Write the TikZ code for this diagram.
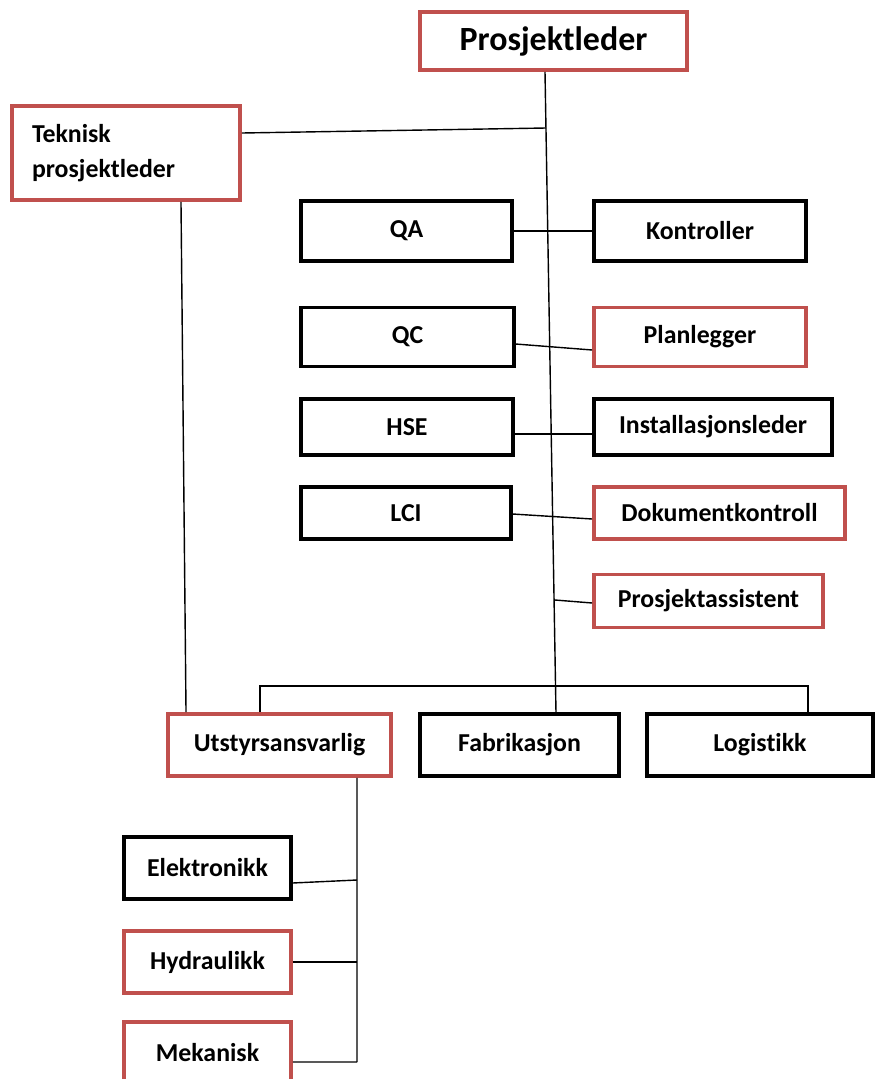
\documentclass[tikz,border=0pt]{standalone}
\usepackage{fontspec}
\setmainfont{Carlito}[Ligatures=NoCommon]
\usetikzlibrary{calc}
\definecolor{boxred}{RGB}{192,80,77}

\begin{document}
\begin{tikzpicture}[x=0.02cm,y=-0.02cm]
\tikzstyle{blackbox}=[draw=black,line width=1.9pt,fill=white,inner sep=0pt,font=\fontsize{14.7}{19.8}\selectfont\bfseries]
\tikzstyle{redbox}=[draw=boxred,line width=2.1pt,fill=white,inner sep=0pt,font=\fontsize{14.7}{19.8}\selectfont\bfseries]
\tikzstyle{link}=[line width=0.8pt,black]

	\useasboundingbox (0,0) rectangle (875,1079);

	% top
	\node (pl) [redbox,minimum width=5.34cm,minimum height=1.16cm,font=\fontsize{19.3}{23}\selectfont\bfseries] at (553.5,41) {Prosjektleder};
	\node (tpl) [redbox,minimum width=4.56cm,minimum height=1.88cm,text width=3.76cm,inner xsep=0.4cm,align=left] at (126,153) {Teknisk\\prosjektleder};

	% staff
	\node (qa) [blackbox,minimum width=4.22cm,minimum height=1.2cm] at (406.5,231) {QA};
	\node (ko) [blackbox,minimum width=4.24cm,minimum height=1.2cm] at (700,231) {Kontroller};
	\node (qc) [blackbox,minimum width=4.26cm,minimum height=1.18cm] at (407.5,337) {QC};
	\node (plg) [redbox,minimum width=4.24cm,minimum height=1.18cm] at (700,337) {Planlegger};
	\node (hse) [blackbox,minimum width=4.24cm,minimum height=1.12cm] at (407,427) {HSE};
	\node (inst) [blackbox,minimum width=4.76cm,minimum height=1.12cm] at (713,427) {Installasjonsleder};
	\node (lci) [blackbox,minimum width=4.2cm,minimum height=1.04cm] at (406,513) {LCI};
	\node (dok) [redbox,minimum width=5.02cm,minimum height=1.04cm] at (719.5,513) {Dokumentkontroll};
	\node (pa) [redbox,minimum width=4.58cm,minimum height=1.06cm] at (708.5,601) {Prosjektassistent};

	% line
	\node (utst) [redbox,minimum width=4.46cm,minimum height=1.24cm] at (279.5,745) {Utstyrsansvarlig};
	\node (fab) [blackbox,minimum width=3.98cm,minimum height=1.24cm] at (519.5,745) {Fabrikasjon};
	\node (log) [blackbox,minimum width=4.52cm,minimum height=1.24cm] at (760,745) {Logistikk};

	\node (el) [blackbox,minimum width=3.34cm,minimum height=1.24cm] at (207.5,868) {Elektronikk};
	\node (hyd) [redbox,minimum width=3.34cm,minimum height=1.24cm] at (207.5,962) {Hydraulikk};
	\node (mek) [redbox,minimum width=3.34cm,minimum height=1.24cm] at (207.5,1053) {Mekanisk};

	\coordinate (j1) at (546,128);
	\coordinate (j2) at (555,600);
	\coordinate (e1) at (357,880);
	\coordinate (e2) at (357,962);
	\coordinate (e3) at (357,1062);

	% connectors
	\draw [link] ([xshift=-0.17cm]pl.south) -- ([xshift=0.73cm]fab.north);
	\draw [link] ([yshift=0.4cm]tpl.east) -- (j1);
	\draw [link] ([xshift=1.1cm]tpl.south) -- ([xshift=-1.87cm]utst.north);

	\draw [link] (qa.east) -- (ko.west);
	\draw [link] ([yshift=-0.14cm]qc.east) -- ([yshift=-0.26cm]plg.west);
	\draw [link] ([yshift=-0.14cm]hse.east) -- ([yshift=-0.14cm]inst.west);
	\draw [link] ([yshift=-0.02cm]lci.east) -- ([yshift=-0.12cm]dok.west);
	\draw [link] (j2) -- ([yshift=-0.04cm]pa.west);

	\draw [link] ([xshift=-0.39cm]utst.north) -- ++(0,-26) -| ([xshift=0.96cm]log.north);

	\draw [link] ([xshift=1.55cm]utst.south) -- (e3);
	\draw [link] ([yshift=-0.3cm]el.east) -- (e1);
	\draw [link] (hyd.east) -- (e2);
	\draw [link] ([yshift=-0.18cm]mek.east) -- (e3);

\end{tikzpicture}
\end{document}
